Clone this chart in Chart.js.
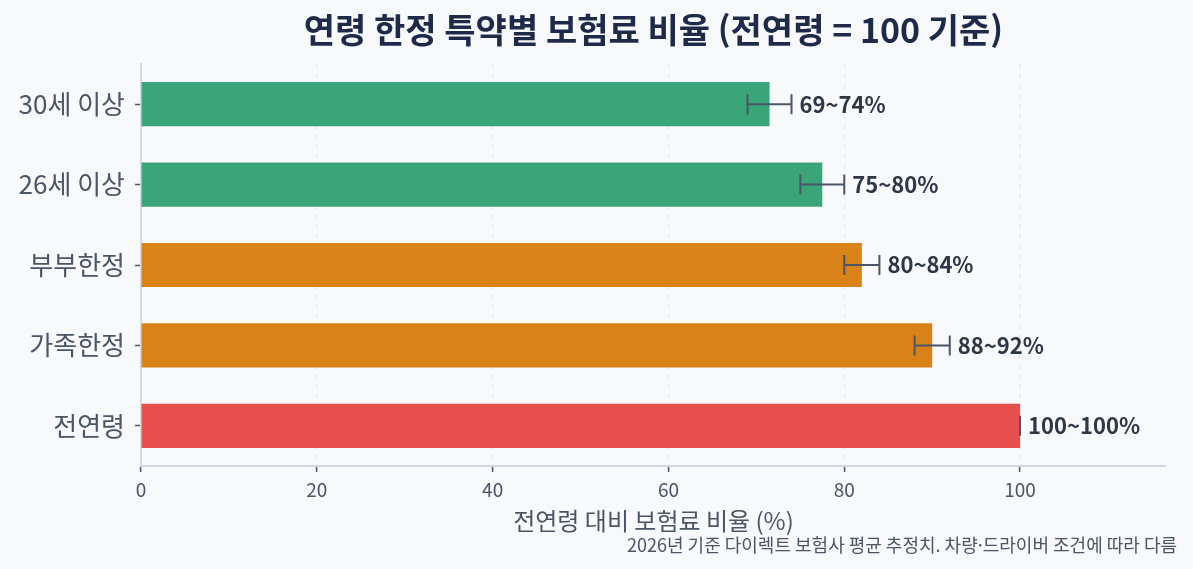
<!DOCTYPE html>
<html lang="ko">
<head>
<meta charset="utf-8">
<script src="https://cdn.jsdelivr.net/npm/chart.js@4"></script>
<style>
  html, body { margin: 0; padding: 0; background: #f7f9fb; }
  #wrap { width: 1193px; height: 569px; }
</style>
</head>
<body>
<div id="wrap"><canvas id="c" width="1193" height="569"></canvas></div>
<script>
const categories = ['30세 이상', '26세 이상', '부부한정', '가족한정', '전연령'];
const values = [71.5, 77.5, 82, 90, 100];
const lows = [69, 75, 80, 88, 100];
const highs = [74, 80, 84, 92, 100];
const barColors = ['#3ba57a', '#3ba57a', '#d98218', '#d98218', '#e84f4f'];
const xTicks = [0, 20, 40, 60, 80, 100];
const titleText = '연령 한정 특약별 보험료 비율 (전연령 = 100 기준)';
const xTitle = '전연령 대비 보험료 비율 (%)';
const footnote = '2026년 기준 다이렉트 보험사 평균 추정치. 차량·드라이버 조건에 따라 다름';

const FONT = "'Noto Sans CJK KR', 'Noto Sans', sans-serif";

const errorBars = {
  id: 'errorBars',
  afterDatasetsDraw(chart) {
    const { ctx, scales: { x, y } } = chart;
    ctx.save();
    ctx.strokeStyle = '#4a5568';
    ctx.lineWidth = 2;
    categories.forEach((c, i) => {
      const yc = y.getPixelForValue(i);
      const x1 = x.getPixelForValue(lows[i]);
      const x2 = x.getPixelForValue(highs[i]);
      ctx.beginPath();
      ctx.moveTo(x1, yc); ctx.lineTo(x2, yc);
      ctx.moveTo(x1, yc - 10); ctx.lineTo(x1, yc + 10);
      ctx.moveTo(x2, yc - 10); ctx.lineTo(x2, yc + 10);
      ctx.stroke();
      ctx.fillStyle = '#2d3748';
      ctx.font = `bold 22px ${FONT}`;
      ctx.textAlign = 'left';
      ctx.textBaseline = 'middle';
      ctx.fillText(`${lows[i]}~${highs[i]}%`, x2 + 8, yc);
    });
    ctx.restore();
  }
};

Chart.defaults.font.family = FONT;

new Chart(document.getElementById('c'), {
  type: 'bar',
  data: {
    labels: categories,
    datasets: [{
      data: values,
      backgroundColor: barColors,
      borderWidth: 0,
      categoryPercentage: 1,
      barPercentage: 0.55
    }]
  },
  options: {
    indexAxis: 'y',
    responsive: false,
    animation: false,
    devicePixelRatio: 1,
    layout: { padding: { left: 0, right: 16, top: 0, bottom: 0 } },
    plugins: {
      legend: { display: false },
      tooltip: { enabled: false },
      title: {
        display: true,
        fullSize: false,
        text: titleText,
        color: '#1e2a4a',
        font: { size: 34, weight: 'bold', family: FONT, lineHeight: 1.2 },
        padding: { top: 10, bottom: 13.2 }
      },
      subtitle: {
        display: true,
        text: footnote,
        position: 'bottom',
        align: 'end',
        color: '#4a5568',
        font: { size: 18, family: FONT, lineHeight: 1.2 },
        padding: { top: 0, bottom: 13.2 }
      }
    },
    scales: {
      x: {
        type: 'linear',
        min: 0,
        max: 116.6,
        afterBuildTicks(scale) { scale.ticks = xTicks.map(v => ({ value: v })); },
        afterFit(scale) { scale.height = 68.2; },
        ticks: { color: '#4a5568', font: { size: 19 }, padding: 6, maxRotation: 0 },
        grid: { color: '#e6eaf0', lineWidth: 1.2, tickColor: '#4a5568', tickLength: 6, tickWidth: 1.5, tickBorderDash: [] },
        border: { display: true, color: '#cfd8e3', width: 2, dash: [5, 5] },
        title: { display: true, text: xTitle, color: '#4a5568', font: { size: 24, lineHeight: 1.1 }, padding: { top: 0, bottom: 0 } }
      },
      y: {
        type: 'category',
        afterFit(scale) { scale.width = 141; },
        ticks: { color: '#4a5568', font: { size: 26 }, padding: 10 },
        grid: { display: true, drawOnChartArea: false, offset: false, tickColor: '#4a5568', tickLength: 6, tickWidth: 1.5 },
        border: { display: true, color: '#cfd8e3', width: 2 }
      },
      yPad: {
        type: 'category',
        position: 'right',
        afterFit(scale) { scale.width = 11; },
        ticks: { display: false },
        grid: { display: false },
        border: { display: false }
      }
    }
  },
  plugins: [errorBars]
});
</script>
</body>
</html>
